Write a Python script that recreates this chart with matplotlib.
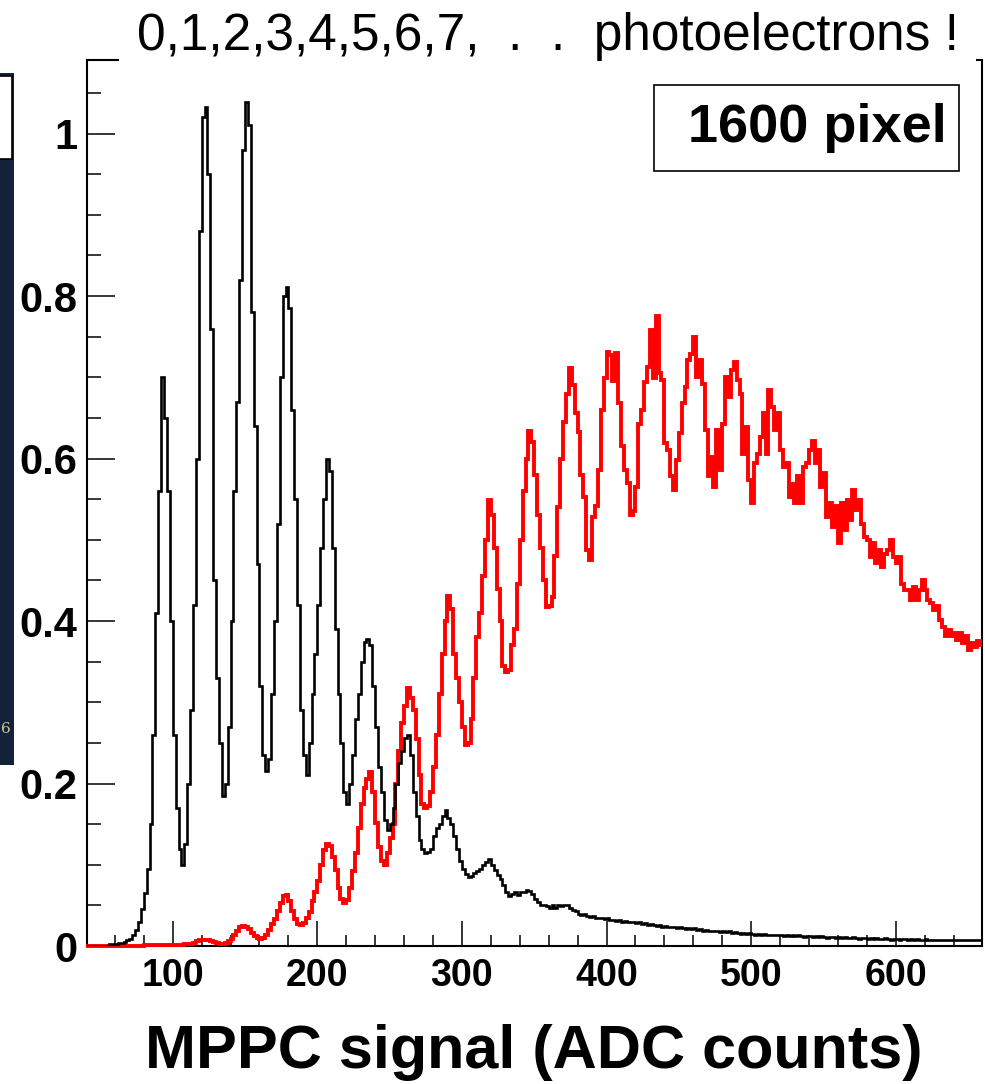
import numpy as np
import matplotlib
matplotlib.use("Agg")
import matplotlib.pyplot as plt
from matplotlib.patches import Rectangle
from matplotlib.ticker import MultipleLocator, FuncFormatter

# histogram binning (ADC counts)
bin_start = 40
bin_width = 2

# black: low light level, resolved photoelectron peaks
black_counts = [
    0.000, 0.000, 0.000, 0.000, 0.000, 0.000, 0.000, 0.000, 0.002, 0.003,
    0.003, 0.004, 0.004, 0.005, 0.007, 0.009, 0.013, 0.020, 0.030, 0.045,
    0.065, 0.095, 0.150, 0.260, 0.410, 0.560, 0.700, 0.650, 0.560, 0.400,
    0.260, 0.170, 0.120, 0.100, 0.125, 0.200, 0.290, 0.420, 0.600, 0.880,
    1.020, 1.033, 0.950, 0.760, 0.450, 0.330, 0.250, 0.185, 0.200, 0.270,
    0.400, 0.560, 0.670, 0.820, 0.980, 1.039, 1.010, 0.780, 0.640, 0.470,
    0.320, 0.235, 0.215, 0.230, 0.310, 0.400, 0.520, 0.700, 0.800, 0.811,
    0.785, 0.660, 0.550, 0.420, 0.290, 0.235, 0.210, 0.250, 0.310, 0.360,
    0.420, 0.490, 0.550, 0.600, 0.585, 0.490, 0.390, 0.310, 0.250, 0.190,
    0.175, 0.200, 0.235, 0.280, 0.310, 0.350, 0.374, 0.378, 0.370, 0.320,
    0.270, 0.220, 0.190, 0.155, 0.143, 0.150, 0.170, 0.200, 0.225, 0.240,
    0.256, 0.260, 0.235, 0.190, 0.160, 0.130, 0.120, 0.115, 0.116, 0.120,
    0.135, 0.145, 0.150, 0.160, 0.167, 0.158, 0.150, 0.135, 0.120, 0.105,
    0.095, 0.089, 0.085, 0.086, 0.090, 0.092, 0.095, 0.100, 0.104, 0.107,
    0.100, 0.094, 0.088, 0.083, 0.075, 0.066, 0.062, 0.064, 0.066, 0.063,
    0.067, 0.066, 0.069, 0.068, 0.064, 0.058, 0.054, 0.051, 0.050, 0.049,
    0.047, 0.050, 0.047, 0.050, 0.049, 0.051, 0.050, 0.047, 0.044, 0.043,
    0.040, 0.038, 0.039, 0.037, 0.036, 0.037, 0.035, 0.035, 0.034, 0.033,
    0.034, 0.032, 0.032, 0.031, 0.032, 0.030, 0.031, 0.029, 0.030, 0.029,
    0.028, 0.029, 0.027, 0.028, 0.026, 0.027, 0.026, 0.025, 0.026, 0.024,
    0.025, 0.024, 0.023, 0.024, 0.022, 0.023, 0.022, 0.021, 0.022, 0.021,
    0.022, 0.020, 0.021, 0.019, 0.020, 0.019, 0.018, 0.019, 0.018, 0.017,
    0.018, 0.017, 0.018, 0.016, 0.017, 0.016, 0.015, 0.016, 0.015, 0.016,
    0.015, 0.014, 0.015, 0.014, 0.015, 0.014, 0.013, 0.014, 0.013, 0.014,
    0.013, 0.012, 0.013, 0.012, 0.013, 0.012, 0.013, 0.012, 0.011, 0.012,
    0.012, 0.011, 0.012, 0.011, 0.012, 0.011, 0.010, 0.011, 0.011, 0.010,
    0.011, 0.010, 0.011, 0.010, 0.010, 0.011, 0.010, 0.009, 0.010, 0.010,
    0.009, 0.010, 0.009, 0.010, 0.009, 0.009, 0.010, 0.009, 0.008, 0.009,
    0.009, 0.008, 0.009, 0.009, 0.008, 0.009, 0.008, 0.009, 0.008, 0.008,
    0.009, 0.008, 0.007, 0.008, 0.008, 0.007, 0.008, 0.008, 0.007, 0.008,
    0.007, 0.008, 0.007, 0.007, 0.008, 0.007, 0.007, 0.008, 0.007, 0.008,
]

# red: higher light level
red_counts = [
    0.000, 0.000, 0.000, 0.000, 0.000, 0.000, 0.000, 0.000, 0.000, 0.000,
    0.000, 0.000, 0.000, 0.000, 0.000, 0.000, 0.000, 0.000, 0.000, 0.000,
    0.001, 0.001, 0.001, 0.001, 0.001, 0.001, 0.001, 0.001, 0.001, 0.001,
    0.001, 0.001, 0.001, 0.001, 0.002, 0.002, 0.003, 0.004, 0.006, 0.007,
    0.008, 0.008, 0.007, 0.006, 0.005, 0.004, 0.003, 0.003, 0.004, 0.006,
    0.009, 0.013, 0.019, 0.023, 0.025, 0.024, 0.021, 0.016, 0.012, 0.010,
    0.009, 0.010, 0.014, 0.020, 0.027, 0.033, 0.043, 0.053, 0.061, 0.063,
    0.056, 0.043, 0.033, 0.027, 0.026, 0.028, 0.035, 0.042, 0.055, 0.067,
    0.080, 0.100, 0.118, 0.126, 0.123, 0.110, 0.094, 0.072, 0.058, 0.053,
    0.057, 0.072, 0.092, 0.115, 0.145, 0.175, 0.195, 0.205, 0.214, 0.190,
    0.152, 0.122, 0.105, 0.100, 0.115, 0.133, 0.150, 0.200, 0.240, 0.275,
    0.295, 0.318, 0.305, 0.290, 0.255, 0.210, 0.175, 0.170, 0.172, 0.190,
    0.220, 0.260, 0.310, 0.360, 0.400, 0.431, 0.415, 0.360, 0.330, 0.300,
    0.270, 0.247, 0.250, 0.280, 0.330, 0.380, 0.410, 0.455, 0.500, 0.549,
    0.530, 0.490, 0.440, 0.400, 0.345, 0.337, 0.340, 0.370, 0.390, 0.445,
    0.500, 0.560, 0.600, 0.634, 0.620, 0.580, 0.530, 0.490, 0.450, 0.417,
    0.418, 0.430, 0.480, 0.540, 0.600, 0.645, 0.680, 0.711, 0.690, 0.656,
    0.633, 0.580, 0.553, 0.487, 0.475, 0.528, 0.541, 0.586, 0.660, 0.699,
    0.731, 0.728, 0.695, 0.730, 0.668, 0.615, 0.586, 0.570, 0.530, 0.535,
    0.565, 0.643, 0.660, 0.694, 0.713, 0.758, 0.699, 0.775, 0.705, 0.697,
    0.619, 0.610, 0.578, 0.561, 0.598, 0.631, 0.668, 0.688, 0.721, 0.729,
    0.750, 0.700, 0.721, 0.692, 0.635, 0.578, 0.602, 0.565, 0.635, 0.586,
    0.643, 0.700, 0.676, 0.709, 0.719, 0.697, 0.680, 0.606, 0.639, 0.574,
    0.545, 0.594, 0.606, 0.627, 0.656, 0.606, 0.684, 0.664, 0.635, 0.656,
    0.610, 0.590, 0.594, 0.553, 0.569, 0.545, 0.578, 0.545, 0.590, 0.594,
    0.610, 0.621, 0.594, 0.610, 0.565, 0.582, 0.528, 0.545, 0.516, 0.541,
    0.496, 0.545, 0.512, 0.549, 0.524, 0.561, 0.537, 0.549, 0.520, 0.504,
    0.500, 0.479, 0.496, 0.471, 0.487, 0.467, 0.483, 0.487, 0.500, 0.479,
    0.471, 0.479, 0.446, 0.438, 0.438, 0.426, 0.442, 0.426, 0.438, 0.450,
    0.438, 0.426, 0.422, 0.414, 0.418, 0.401, 0.393, 0.381, 0.389, 0.381,
    0.385, 0.377, 0.385, 0.373, 0.381, 0.364, 0.373, 0.368, 0.375, 0.370,
]

title_text = "0,1,2,3,4,5,6,7,  .  .  photoelectrons !"
xlabel_text = "MPPC signal (ADC counts)"
box_text = "1600 pixel"

plt.rcParams['font.family'] = ['Liberation Sans', 'DejaVu Sans']

W, H = 985, 1084
fig = plt.figure(figsize=(W / 100, H / 100), dpi=100)
fig.patch.set_facecolor('white')

ax = fig.add_axes([87 / W, (H - 946) / H, (982 - 87) / W, (946 - 60) / H])

edges = bin_start + bin_width * np.arange(len(black_counts) + 1)
ax.stairs(red_counts, edges, color='#ff0000', lw=2.8, baseline=None,
          zorder=3, clip_on=False)
ax.stairs(black_counts, edges, color='black', lw=1.9, baseline=None, zorder=4)

ax.set_xlim(40.7, 659.7)
ax.set_ylim(0, 1.0905)

ax.xaxis.set_major_locator(MultipleLocator(100))
ax.xaxis.set_minor_locator(MultipleLocator(20))
ax.yaxis.set_major_locator(MultipleLocator(0.2))
ax.yaxis.set_minor_locator(MultipleLocator(0.05))
ax.yaxis.set_major_formatter(FuncFormatter(lambda v, p: '%g' % round(v, 2)))

ax.tick_params(axis='x', which='major', direction='in', length=18, width=1.1,
               pad=9, labelsize=27)
ax.tick_params(axis='x', which='minor', direction='in', length=8, width=1.1)
ax.tick_params(axis='y', which='major', direction='in', length=20, width=1.1,
               pad=7, labelsize=30)
ax.tick_params(axis='y', which='minor', direction='in', length=10, width=1.1)
for lab in ax.get_xticklabels() + ax.get_yticklabels():
    lab.set_fontweight('bold')
for sp in ax.spines.values():
    sp.set_linewidth(1.5)

# title pad (white, hides the top frame line)
fig.add_artist(Rectangle((119 / W, (H - 63) / H), (976 - 119) / W, 63 / H,
                         transform=fig.transFigure, facecolor='white',
                         edgecolor='none', zorder=5))
fig.text(548 / W, (H - 50) / H, title_text, ha='center', va='baseline',
         fontsize=37, zorder=6)

# label box
fig.add_artist(Rectangle((654 / W, (H - 171) / H), (959 - 654) / W, 86 / H,
                         transform=fig.transFigure, facecolor='white',
                         edgecolor='black', lw=1.2, zorder=5))
fig.text(817 / W, (H - 142) / H, box_text, ha='center', va='baseline',
         fontsize=39, fontweight='bold', zorder=6)

fig.text(534 / W, (H - 1068) / H, xlabel_text, ha='center', va='baseline',
         fontsize=44, fontweight='bold')

# dark strip from a neighbouring panel at the left edge
fig.add_artist(Rectangle((0, (H - 765) / H), 14 / W, (765 - 73) / H,
                         transform=fig.transFigure, facecolor='#13223a',
                         edgecolor='none', zorder=4))
fig.add_artist(Rectangle((-3 / W, (H - 159) / H), 15 / W, (159 - 76) / H,
                         transform=fig.transFigure, facecolor='white',
                         edgecolor='black', lw=1.2, zorder=5))
fig.text(6 / W, (H - 729) / H, "6", ha='center', va='center', fontsize=11,
         color='#cfc79a', family='DejaVu Serif', zorder=6)

fig.savefig('out.png', dpi=100)
